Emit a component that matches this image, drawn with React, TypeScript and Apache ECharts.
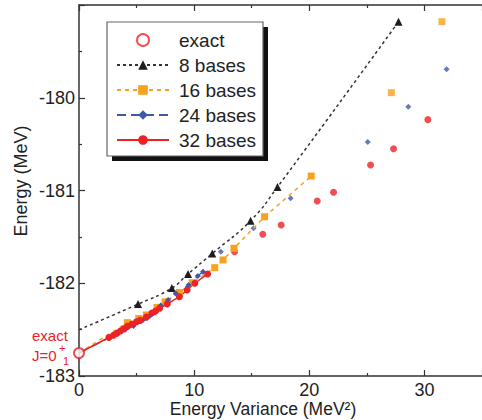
import React, { useEffect, useRef } from "react";
import * as echarts from "echarts";

const FONT = "'Liberation Sans', Arial, Helvetica, sans-serif";

// ---- data ----
const exactValue = -182.752;

const start8 = -182.5;
const bases8 = [
  [5.13, -182.225], [8.06, -182.052], [9.47, -181.9], [11.57, -181.68],
  [14.9, -181.326], [17.24, -180.962], [27.75, -179.18],
];

const bases16Linked = [
  [4.2, -182.425], [5.19, -182.38], [5.85, -182.342], [6.78, -182.26],
  [7.48, -182.2], [8.72, -182.1], [9.84, -181.994], [11.79, -181.832],
  [12.51, -181.749], [13.46, -181.623], [16.12, -181.283], [20.17, -180.844],
];
const bases16Free = [[27.13, -179.945], [31.52, -179.18]];

const bases24Linked = [
  [4.0, -182.5], [4.73, -182.46], [5.53, -182.4], [6.15, -182.353],
  [6.6, -182.315], [7.1, -182.24], [7.74, -182.18], [8.4, -182.108],
  [9.52, -182.02], [10.32, -181.922], [10.77, -181.875],
];
const bases24Free = [
  [12.32, -181.66], [15.16, -181.408], [18.38, -181.084],
  [25.08, -180.477], [28.6, -180.096], [31.92, -179.693],
];

const bases32Linked = [
  [2.6, -182.585], [3.0, -182.56], [3.3, -182.54], [3.6, -182.515],
  [3.9, -182.49], [4.2, -182.465], [4.6, -182.44], [5.0, -182.415],
  [5.3, -182.4], [5.85, -182.365], [6.33, -182.32], [6.65, -182.3],
  [7.0, -182.27], [7.66, -182.224], [8.72, -182.145], [9.39, -182.073],
  [10.06, -182.0], [11.17, -181.9],
];
const bases32Free = [
  [13.51, -181.66], [15.96, -181.472], [17.56, -181.372], [20.69, -181.113],
  [22.11, -181.019], [25.32, -180.725], [27.32, -180.549], [30.3, -180.236],
];

const legendNames = ["exact", "8 bases", "16 bases", "24 bases", "32 bases"];
const yTicks = { min: -183, max: -179, interval: 1 };
const xTicks = { min: 0, max: 35, interval: 10 };

const RED = "#ec2227";
const ORANGE = "#f6a21e";
const BLUE = "#3b5ba9";
const BLACK = "#1e1e1e";

function withStart(y0: number, pts: number[][]) {
  return [{ value: [0, y0], symbol: "none" }, ...pts.map((p) => ({ value: p }))];
}

function buildOption() {
  const axisLine = { show: true, lineStyle: { color: "#333", width: 1.5 } };
  const tick = { show: true, inside: true, length: 6, lineStyle: { color: "#333", width: 1.2 } };
  const minor = { show: true, splitNumber: 2, length: 3, lineStyle: { color: "#333", width: 1.2 } };
  const label = { fontSize: 18, color: "#222", fontFamily: FONT };

  return {
    animation: false,
    backgroundColor: "#fff",
    grid: { left: 79, top: 5, right: -35.55, bottom: 44, containLabel: false },
    xAxis: [
      {
        type: "value", ...xTicks, position: "bottom",
        axisLine, axisTick: tick, minorTick: minor, splitLine: { show: false },
        axisLabel: { ...label, margin: 5, showMaxLabel: false },
      },
      {
        type: "value", ...xTicks, position: "top",
        axisLine, axisTick: tick, minorTick: minor, splitLine: { show: false },
        axisLabel: { show: false },
      },
    ],
    yAxis: {
      type: "value", ...yTicks,
      axisLine, axisTick: tick, minorTick: minor, splitLine: { show: false },
      axisLabel: { ...label, margin: 4, showMaxLabel: false },
    },
    legend: {
      orient: "vertical", left: 116, top: 30, z: 10, padding: 0,
      itemWidth: 52, itemHeight: 12, itemGap: 5,
      textStyle: { fontSize: 19, color: "#222", fontFamily: FONT, lineHeight: 20, padding: [0, 0, 0, 5] },
      data: legendNames,
    },
    graphic: [
      { type: "rect", z: 8, shape: { x: 112, y: 27, width: 156, height: 134 }, style: { fill: "#111" } },
      { type: "rect", z: 9, shape: { x: 107, y: 22, width: 156, height: 134 }, style: { fill: "#fff", stroke: "#666", lineWidth: 1.2 } },
      {
        type: "text", x: 21, y: 181, rotation: Math.PI / 2,
        style: { text: "Energy (MeV)", font: `18px ${FONT}`, fill: "#222", align: "center", verticalAlign: "middle" },
      },
      {
        type: "text", x: 263, y: 409,
        style: { text: "Energy Variance (MeV²)", font: `17.5px ${FONT}`, fill: "#222", align: "center", verticalAlign: "middle" },
      },
      { type: "text", x: 32, y: 335, style: { text: "exact", font: `15px ${FONT}`, fill: RED, verticalAlign: "middle" } },
      { type: "text", x: 32, y: 355, style: { text: "J=0", font: `15px ${FONT}`, fill: RED, verticalAlign: "middle" } },
      { type: "text", x: 59, y: 348, style: { text: "+", font: `11px ${FONT}`, fill: RED, verticalAlign: "middle" } },
      { type: "text", x: 63, y: 361, style: { text: "1", font: `11px ${FONT}`, fill: RED, verticalAlign: "middle" } },
    ],
    series: [
      {
        name: "8 bases", type: "line", smooth: 0.5,
        data: withStart(start8, bases8),
        symbol: "triangle", symbolSize: 8,
        itemStyle: { color: BLACK },
        lineStyle: { color: "#333", width: 1.5, type: [3, 3] },
      },
      {
        name: "16 bases", type: "line",
        data: withStart(exactValue, bases16Linked),
        symbol: "rect", symbolSize: 7,
        itemStyle: { color: ORANGE },
        lineStyle: { color: ORANGE, width: 1.5, type: [4, 4] },
      },
      {
        name: "16 bases", type: "scatter", data: bases16Free,
        symbol: "rect", symbolSize: 7, itemStyle: { color: ORANGE },
      },
      {
        name: "24 bases", type: "line",
        data: withStart(exactValue, bases24Linked),
        symbol: "diamond", symbolSize: 6,
        itemStyle: { color: BLUE },
        lineStyle: { color: BLUE, width: 1.5, type: [9, 5] },
      },
      {
        name: "24 bases", type: "scatter", data: bases24Free,
        symbol: "diamond", symbolSize: 6, itemStyle: { color: BLUE },
      },
      {
        name: "32 bases", type: "line",
        data: withStart(exactValue, bases32Linked),
        symbol: "circle", symbolSize: 7,
        itemStyle: { color: RED },
        lineStyle: { color: RED, width: 1.5, type: "solid" },
      },
      {
        name: "32 bases", type: "scatter", data: bases32Free,
        symbol: "circle", symbolSize: 7, itemStyle: { color: RED },
      },
      {
        name: "exact", type: "scatter", data: [[0, exactValue]],
        symbol: "emptyCircle", symbolSize: 10, z: 5,
        itemStyle: { color: RED, borderColor: RED, borderWidth: 2 },
      },
    ],
  };
}

export default function App() {
  const ref = useRef<HTMLDivElement>(null);
  useEffect(() => {
    if (!ref.current) return;
    const chart = echarts.init(ref.current, null, { renderer: "svg" });
    chart.setOption(buildOption() as any);
    return () => chart.dispose();
  }, []);
  return <div ref={ref} style={{ position: "absolute", left: 0, top: 0, width: 482, height: 420 }} />;
}
